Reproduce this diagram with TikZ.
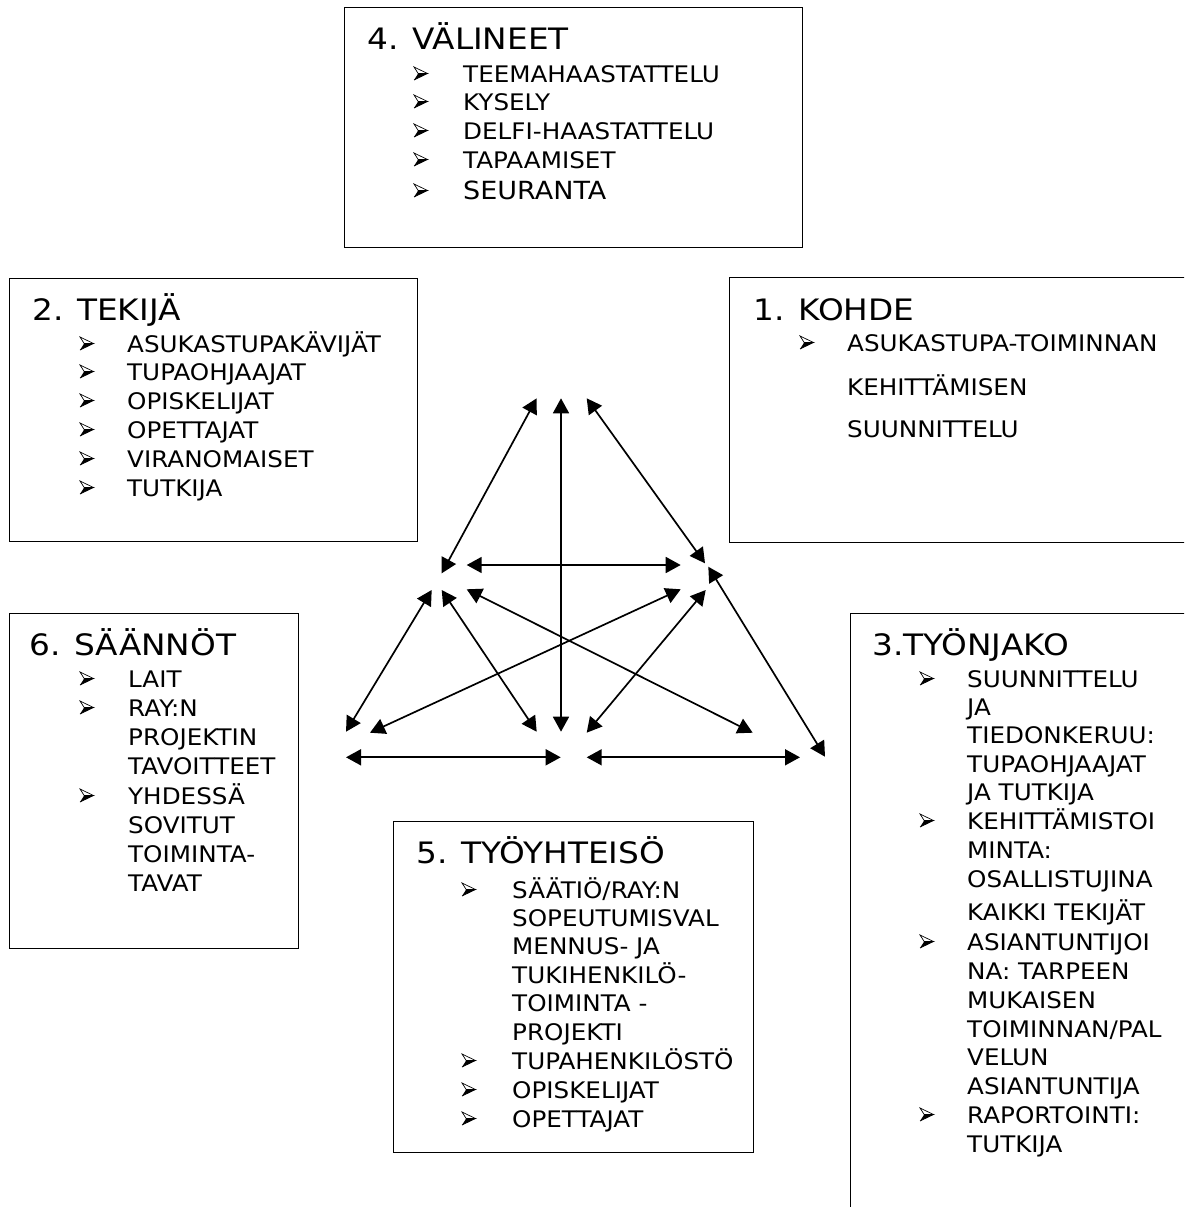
\documentclass[tikz,border=0pt]{standalone}
\usepackage{fontspec}
\setmainfont{DejaVu Sans}
\newfontfamily\ttlfont{DejaVu Sans}[FakeStretch=1.11]
\newfontfamily\itmfont{DejaVu Sans}[FakeStretch=1.08]
\usetikzlibrary{arrows.meta}
\tikzset{
  box/.style={draw, line width=1.4pt, anchor=north west, inner sep=0pt},
  ttl/.style={anchor=base west, inner sep=0pt, font=\ttlfont\fontsize{29.5}{30}\selectfont},
  itm/.style={anchor=base west, inner sep=0pt, font=\itmfont\fontsize{22.8}{24}\selectfont},
  itmb/.style={anchor=base west, inner sep=0pt, font=\itmfont\fontsize{25}{26}\selectfont},
  con/.style={line width=1.7pt, {Triangle[length=15pt,width=16pt]}-{Triangle[length=15pt,width=16pt]}},
  bul/.pic={
    \fill[black] (0,-2) -- (13.5,-8.5) -- (4.2,-8.5) -- cycle;
    \draw[line width=0.7pt, line join=miter] (0,-15) -- (13.5,-8.5) -- (4.2,-8.5) -- cycle;
    \draw[line width=0.7pt] (0,-2) -- (13.5,-8.5);
  }
}
\begin{document}
\begin{tikzpicture}[x=1pt,y=-1pt]
\useasboundingbox (0,0) rectangle (1184,1207);
\clip (0,0) rectangle (1184,1207);
\fill[white] (0,0) rectangle (1184,1207);

% boxes
\node[box, minimum width=458pt, minimum height=240pt] (b4) at (344,7) {};
\node[box, minimum width=408pt, minimum height=263pt] (b2) at (9,278) {};
\node[box, minimum width=470pt, minimum height=265pt] (b1) at (729,277) {};
\node[box, minimum width=289pt, minimum height=335pt] (b6) at (9,613) {};
\node[box, minimum width=360pt, minimum height=331pt] (b5) at (393,821) {};
\node[box, minimum width=350pt, minimum height=610pt] (b3) at (850,613) {};

% box 4
\node[ttl] (b4t) at (367,50) {4. VÄLINEET};
\foreach \y/\t [count=\i] in {82/{TEEMAHAASTATTELU},110/{KYSELY},139/{DELFI-HAASTATTELU},168/{TAPAAMISET}}{
  \node[itm] (b4i\i) at (463,\y) {\t};
  \pic at (414,\y) {bul};
}
\node[itmb] (b4i5) at (463,199) {SEURANTA};
\pic at (414,199) {bul};

% box 2
\node[ttl] (b2t) at (32,320) {2. TEKIJÄ};
\foreach \y/\t [count=\i] in {352/{ASUKASTUPAKÄVIJÄT},380/{TUPAOHJAAJAT},409/{OPISKELIJAT},438/{OPETTAJAT},467/{VIRANOMAISET},496/{TUTKIJA}}{
  \node[itm] (b2i\i) at (127,\y) {\t};
  \pic at (80,\y) {bul};
}

% box 1
\node[ttl] (b1t) at (753,320) {1. KOHDE};
\node[itm] (b1i1) at (847,351) {ASUKASTUPA-TOIMINNAN};
\pic at (800,351) {bul};
\node[itm] (b1i2) at (847,395) {KEHITTÄMISEN};
\node[itm] (b1i3) at (847,437) {SUUNNITTELU};

% box 6
\node[ttl] (b6t) at (29,655) {6. SÄÄNNÖT};
\foreach \y/\t [count=\i] in {687/{LAIT},716/{RAY:N},745/{PROJEKTIN},774/{TAVOITTEET},804/{YHDESSÄ},833/{SOVITUT},862/{TOIMINTA-},891/{TAVAT}}{
  \node[itm] (b6i\i) at (128,\y) {\t};
}
\foreach \y in {687,716,804}{ \pic at (80,\y) {bul}; }

% box 5
\node[ttl] (b5t) at (416,863) {5. TYÖYHTEISÖ};
\foreach \y/\t [count=\i] in {898/{SÄÄTIÖ/RAY:N},926/{SOPEUTUMISVAL},954/{MENNUS- JA},983/{TUKIHENKILÖ-},1011/{TOIMINTA -},1040/{PROJEKTI},1069/{TUPAHENKILÖSTÖ},1098/{OPISKELIJAT},1127/{OPETTAJAT}}{
  \node[itm] (b5i\i) at (512,\y) {\t};
}
\foreach \y in {898,1069,1098,1127}{ \pic at (462,\y) {bul}; }

% box 3
\node[ttl] (b3t) at (872,655) {3.TYÖNJAKO};
\foreach \y/\t [count=\i] in {687/{SUUNNITTELU},715/{JA},743/{TIEDONKERUU:},772/{TUPAOHJAAJAT},800/{JA TUTKIJA},829/{KEHITTÄMISTOI},858/{MINTA:},887/{OSALLISTUJINA},920/{KAIKKI TEKIJÄT},950/{ASIANTUNTIJOI},979/{NA: TARPEEN},1008/{MUKAISEN},1037/{TOIMINNAN/PAL},1065/{VELUN},1094/{ASIANTUNTIJA},1123/{RAPORTOINTI:},1152/{TUTKIJA}}{
  \node[itm] (b3i\i) at (967,\y) {\t};
}
\foreach \y in {687,829,950,1123}{ \pic at (920,\y) {bul}; }

% connector end points
\coordinate (t1) at (536.7,398.3);
\coordinate (t2) at (561,398.3);
\coordinate (t3) at (586.7,398.3);
\coordinate (ml1) at (441.7,573.3);
\coordinate (ml2) at (466.7,565);
\coordinate (ml3) at (431.7,590);
\coordinate (ml4) at (441.7,590);
\coordinate (ml5) at (466.7,589.3);
\coordinate (mr1) at (705,563.3);
\coordinate (mr2) at (680.7,565);
\coordinate (mr3) at (708.3,566.7);
\coordinate (mr4) at (680.7,589.3);
\coordinate (mr5) at (705.7,590);
\coordinate (bb1) at (346,731.7);
\coordinate (bb2) at (370,732.7);
\coordinate (bb3) at (536.7,731.7);
\coordinate (bb4) at (561,731.7);
\coordinate (bb5) at (586.7,732.7);
\coordinate (bb6) at (752.7,732.7);
\coordinate (bb7) at (825,756.7);
\coordinate (bl1) at (346,757.3);
\coordinate (bl2) at (560.7,757.3);
\coordinate (br1) at (586.7,757.3);
\coordinate (br2) at (800,757.3);

\draw[con] (t1) -- (ml1);
\draw[con] (t2) -- (bb4);
\draw[con] (t3) -- (mr1);
\draw[con] (ml2) -- (mr2);
\draw[con] (mr3) -- (bb7);
\draw[con] (ml3) -- (bb1);
\draw[con] (ml4) -- (bb3);
\draw[con] (ml5) -- (bb6);
\draw[con] (mr4) -- (bb2);
\draw[con] (mr5) -- (bb5);
\draw[con] (bl1) -- (bl2);
\draw[con] (br1) -- (br2);
\end{tikzpicture}
\end{document}
